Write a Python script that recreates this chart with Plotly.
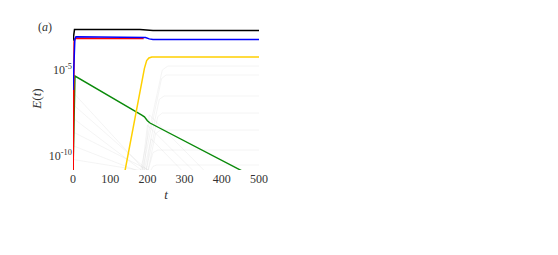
import plotly.graph_objects as go

# ---- data (log10 of E(t)) ----
black_t = [0, 2, 4, 180, 200, 215, 500]
black_logE = [-3.3, -2.8, -2.65, -2.65, -2.68, -2.70, -2.70]

blue_t = [0, 2, 5, 8, 185, 195, 205, 215, 500]
blue_logE = [-6.16, -4.5, -3.2, -3.07, -3.07, -3.11, -3.19, -3.23, -3.23]

red_t = [0.3, 1.5, 3, 6, 185, 190]
red_logE = [-11.5, -6.0, -3.35, -3.16, -3.16, -3.17]

yellow_t = [135, 192, 198, 204, 212, 500]
yellow_logE = [-11.4, -4.9, -4.45, -4.3, -4.24, -4.24]

green_t = [0, 3, 5.4, 185, 192, 200, 207, 455, 470]
green_logE = [-11.0, -6.0, -5.35, -7.62, -7.72, -7.95, -8.08, -10.87, -11.05]

# faint background modes
gray1_t = [0, 200]; gray1_logE = [-6.3, -11.0]
gray2_t = [0, 210]; gray2_logE = [-7.0, -11.0]
gray3_t = [0, 195]; gray3_logE = [-7.8, -11.0]
gray4_t = [0, 220]; gray4_logE = [-8.6, -11.0]
gray5_t = [0, 190]; gray5_logE = [-9.4, -11.0]
gray6_t = [0, 230]; gray6_logE = [-10.2, -11.0]
gray7_t = [180, 240, 255, 500]; gray7_logE = [-11.0, -5.0, -4.77, -4.77]
gray8_t = [185, 238, 250, 500]; gray8_logE = [-11.0, -5.5, -5.29, -5.29]
gray9_t = [190, 232, 245, 500]; gray9_logE = [-11.0, -6.7, -6.51, -6.51]
gray10_t = [195, 228, 240, 500]; gray10_logE = [-11.0, -7.7, -7.5, -7.5]
gray11_t = [200, 222, 235, 500]; gray11_logE = [-11.0, -8.7, -8.49, -8.49]
gray12_t = [200, 215, 228, 500]; gray12_logE = [-11.0, -9.8, -9.65, -9.65]
gray13_t = [205, 215, 225, 500]; gray13_logE = [-11.0, -10.6, -10.52, -10.52]
gray14_t = [185, 200, 330]; gray14_logE = [-11.0, -8.2, -11.0]
gray15_t = [190, 205, 360]; gray15_logE = [-11.0, -7.6, -11.0]
gray16_t = [195, 210, 300]; gray16_logE = [-11.0, -9.0, -11.0]

gray_sets = [
    (gray1_t, gray1_logE), (gray2_t, gray2_logE), (gray3_t, gray3_logE),
    (gray4_t, gray4_logE), (gray5_t, gray5_logE), (gray6_t, gray6_logE),
    (gray7_t, gray7_logE), (gray8_t, gray8_logE), (gray9_t, gray9_logE),
    (gray10_t, gray10_logE), (gray11_t, gray11_logE), (gray12_t, gray12_logE),
    (gray13_t, gray13_logE), (gray14_t, gray14_logE), (gray15_t, gray15_logE),
    (gray16_t, gray16_logE),
]

x_ticks = [0, 100, 200, 300, 400, 500]
y_ticks = [1e-10, 1e-5]
y_ticktext = ["10<sup>-10</sup>", "10<sup>-5</sup>"]


def pw(vals):
    return [10 ** v for v in vals]


fig = go.Figure()
for gt, gl in gray_sets:
    fig.add_trace(go.Scatter(x=gt, y=pw(gl), mode="lines",
                             line=dict(color="rgba(200,200,200,0.35)", width=0.6),
                             hoverinfo="skip", showlegend=False))

main = [
    (green_t, green_logE, "#0a8a0a", 1.4),
    (yellow_t, yellow_logE, "#ffd000", 1.5),
    (red_t, red_logE, "#ff0000", 1.5),
    (blue_t, blue_logE, "#0000ff", 1.5),
    (black_t, black_logE, "#000000", 1.5),
]
for t, l, c, w in main:
    fig.add_trace(go.Scatter(x=t, y=pw(l), mode="lines",
                             line=dict(color=c, width=w), showlegend=False))

serif = "Liberation Serif, Times New Roman, serif"
fig.update_layout(
    width=550, height=247,
    margin=dict(l=65, r=299, t=19, b=85),
    paper_bgcolor="white", plot_bgcolor="white",
    font=dict(family=serif, size=12, color="#333"),
    xaxis=dict(range=[0, 500], tickvals=x_ticks, showgrid=False, zeroline=False,
               showline=False, ticks="", automargin=False,
               tickfont=dict(family=serif, size=12, color="#333"),
               title=dict(text="<i>t</i>", font=dict(family=serif, size=13, color="#333"), standoff=4)),
    yaxis=dict(type="log", range=[-10.81, -2.5], tickvals=y_ticks, ticktext=y_ticktext,
               showgrid=False, zeroline=False, showline=False, ticks="", automargin=False,
               tickfont=dict(family=serif, size=12, color="#333"),
               title=dict(text="<i>E</i>(<i>t</i>)", font=dict(family=serif, size=13, color="#333"), standoff=4)),
    annotations=[dict(text="(<i>a</i>)", xref="paper", yref="paper", x=-0.15, y=1.0,
                      xanchor="center", yanchor="middle", showarrow=False,
                      font=dict(family=serif, size=12, color="#333"))],
)

fig.write_html("out.html")
